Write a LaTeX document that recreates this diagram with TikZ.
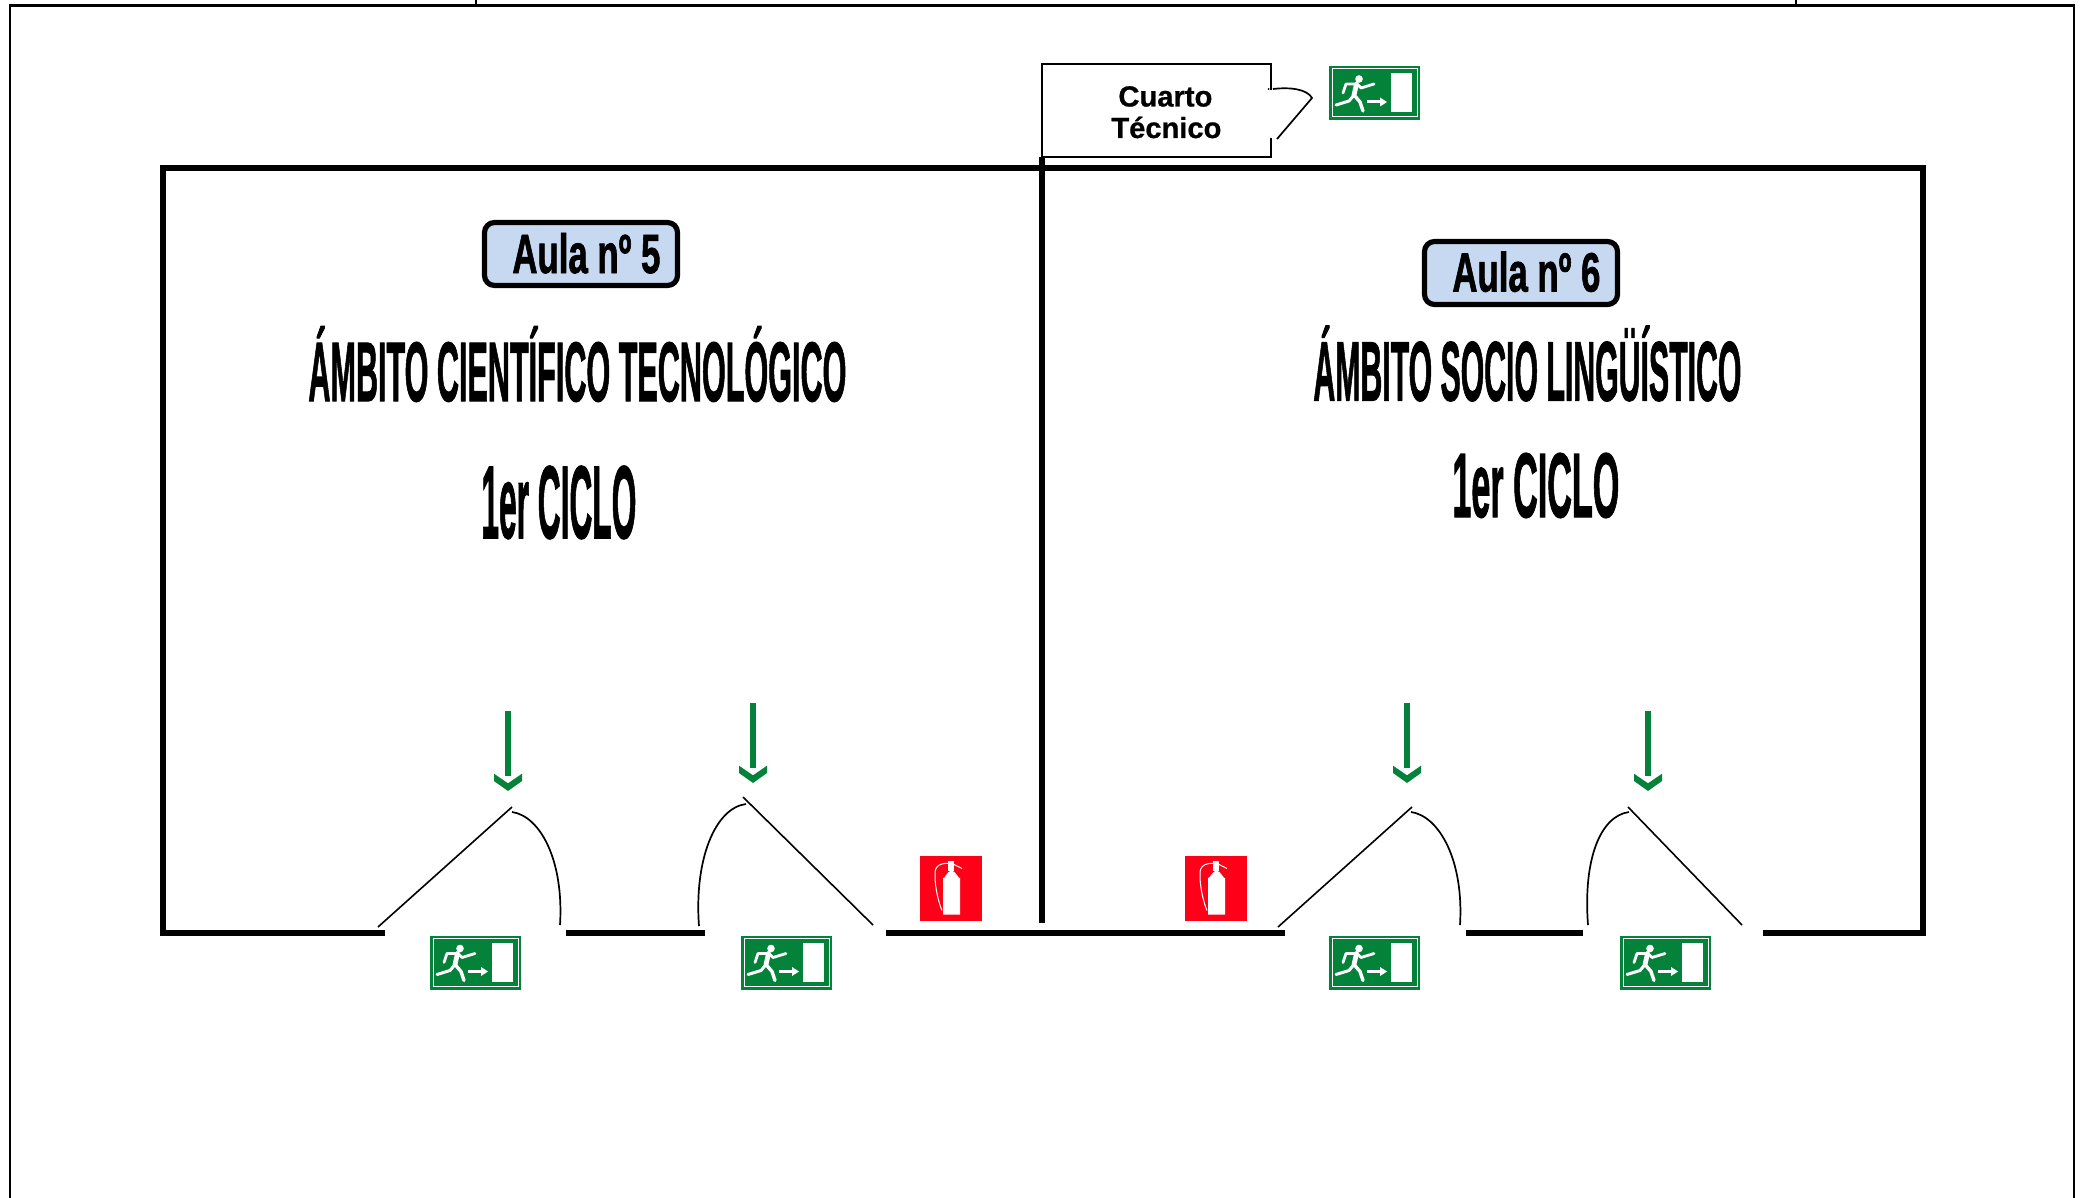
\documentclass[tikz,border=0pt]{standalone}
\usepackage{fontspec}
\setmainfont{Liberation Sans}
\newfontfamily\heavyface[FakeBold=1.6]{Liberation Sans Bold}
\newfontfamily\smallheavy[FakeBold=0.8]{Liberation Sans Bold}
\definecolor{signgreen}{HTML}{058239}
\definecolor{signred}{HTML}{FF0019}
\definecolor{roomblue}{HTML}{C6D9F1}
\newsavebox\fitbox
% #1 ink width in px, #2 cap height in px, #3 font, #4 text
\newcommand\fittext[4]{\sbox\fitbox{#3\fontsize{40}{48}\selectfont #4}%
  \pgfmathsetmacro\fitsx{#1*0.5/\wd\fitbox}%
  \pgfmathsetmacro\fitsy{#2*0.5/(0.688*40)}%
  \scalebox{\fitsx}[\fitsy]{\usebox\fitbox}}
\tikzset{
  x=0.5pt,y=-0.5pt,
  wall/.style={line width=3pt,black,line cap=butt,line join=miter},
  frameline/.style={line width=1.2pt,black},
  leaf/.style={line width=0.8pt,black},
  swing/.style={line width=0.85pt,black},
  thinroom/.style={line width=1pt,black},
  plaque/.style={draw=black,line width=2.6pt,fill=roomblue,rounded corners=5pt},
  label/.style={inner sep=0pt,anchor=base west},
  exitsign/.pic={
    \fill[signgreen] (0,0) rectangle (91,54);
    \draw[white,line width=0.5pt] (3,3) rectangle (88,51);
    \fill[white] (62,7) rectangle (83,46);
    \fill[white] (30,13) circle[radius=3.8];
    \draw[white,line width=2.4pt,line cap=round,line join=round] (27.5,18) -- (25,29);
    \draw[white,line width=1.4pt,line cap=round,line join=round] (29,19) -- (32,22) -- (45,18);
    \draw[white,line width=1.4pt,line cap=round,line join=round] (27,18) -- (17,18) -- (14,27);
    \draw[white,line width=1.7pt,line cap=round,line join=round] (25,29) -- (31,36) -- (34,45);
    \draw[white,line width=1.5pt,line cap=round,line join=round] (25,29) -- (20,35) -- (7,39);
    \draw[white,line width=1.5pt] (38,36) -- (52,36);
    \fill[white] (51,31.5) -- (58,36) -- (51,40.5) -- cycle;
  },
  extinguisher/.pic={
    \fill[signred] (0,0) rectangle (62,65);
    \fill[white] (23,59) -- (23,22) to[out=-90,in=180] (31.5,15) to[out=0,in=-90] (40,22) -- (40,59) -- cycle;
    \fill[white] (28,15) rectangle (34,5);
    \draw[white,line width=0.5pt] (30,7) -- (42,13);
    \draw[white,line width=0.5pt] (32,8) .. controls (22,7) and (14,9) .. (15,20) .. controls (15,33) and (19,48) .. (22,55);
  },
  downarrow/.pic={
    \fill[signgreen] (-2.8,-80) rectangle (2.8,-15);
    \fill[signgreen] (-14,-17.3) -- (-14,-10) -- (0,0) -- (14,-10) -- (14,-17.3) -- (0,-7.7) -- cycle;
  },
}
\begin{document}
\begin{tikzpicture}
\useasboundingbox (0,0) rectangle (2082,1198);
% outer frame
\draw[frameline] (10,1198) -- (10,5.5) -- (2074,5.5) -- (2074,1198);
\draw[frameline] (476,0) -- (476,5.5);
\draw[frameline] (1796,0) -- (1796,5.5);
% walls
\draw[wall] (385,933) -- (163,933) -- (163,168) -- (1923,168) -- (1923,933) -- (1763,933);
\draw[wall] (566,933) -- (705,933);
\draw[wall] (886,933) -- (1285,933);
\draw[wall] (1466,933) -- (1583,933);
\draw[line width=2.6pt,black] (1042,157) -- (1042,923);
% technical room
\draw[thinroom] (1271,90) -- (1271,64) -- (1042,64) -- (1042,157) -- (1271,157) -- (1271,138);
\draw[swing] (1273,89) .. controls (1290,87) and (1307,89) .. (1312,98) -- (1277,139);
\fill (1268.5,89) circle[radius=1];
\node[label] (cuarto) at (1118,106.5) {\fittext{94}{20}{\smallheavy}{Cuarto}};
\node[label] (tecnico) at (1111,138) {\fittext{110}{20}{\smallheavy}{Técnico}};
% doors
\draw[leaf] (378,927) -- (512,807);
\draw[swing] (512,812) .. controls (540,816) and (564,860) .. (560,925);
\draw[leaf] (743,797) -- (873,925);
\draw[swing] (746,804) .. controls (715,808) and (694,860) .. (699,926);
\draw[leaf] (1278,927) -- (1412,807);
\draw[swing] (1411,812) .. controls (1439,816) and (1464,860) .. (1460,925);
\draw[leaf] (1628,807) -- (1742,925);
\draw[swing] (1629,812) .. controls (1600,816) and (1583,860) .. (1588,925);
% arrows
\pic at (508,791) {downarrow};
\pic at (753,783) {downarrow};
\pic at (1407,783) {downarrow};
\pic at (1648,791) {downarrow};
% signs
\pic at (430,935.5) {exitsign};
\pic at (741,935.5) {exitsign};
\pic at (1329,935.5) {exitsign};
\pic at (1620,935.5) {exitsign};
\pic at (1329,66) {exitsign};
\pic at (920,855.5) {extinguisher};
\pic at (1185,855.5) {extinguisher};
% room labels
\draw[plaque] (484.5,222.5) rectangle (677.5,285.5);
\draw[plaque] (1424.5,241.5) rectangle (1617.5,304.5);
\node[label] (aula5) at (512,273) {\fittext{148}{38}{\heavyface}{Aula nº 5}};
\node[label] (aula6) at (1452,291.5) {\fittext{148}{38}{\heavyface}{Aula nº 6}};
\node[label] (amb5) at (308,401) {\fittext{538}{58}{\heavyface}{ÁMBITO CIENTÍFICO TECNOLÓGICO}};
\node[label] (amb6) at (1313,400.5) {\fittext{428}{58}{\heavyface}{ÁMBITO SOCIO LINGÜÍSTICO}};
\node[label] (ciclo5) at (481,538) {\fittext{155}{71}{\heavyface}{1er CICLO}};
\node[label] (ciclo6) at (1452,517) {\fittext{167}{63}{\heavyface}{1er CICLO}};
\end{tikzpicture}
\end{document}
